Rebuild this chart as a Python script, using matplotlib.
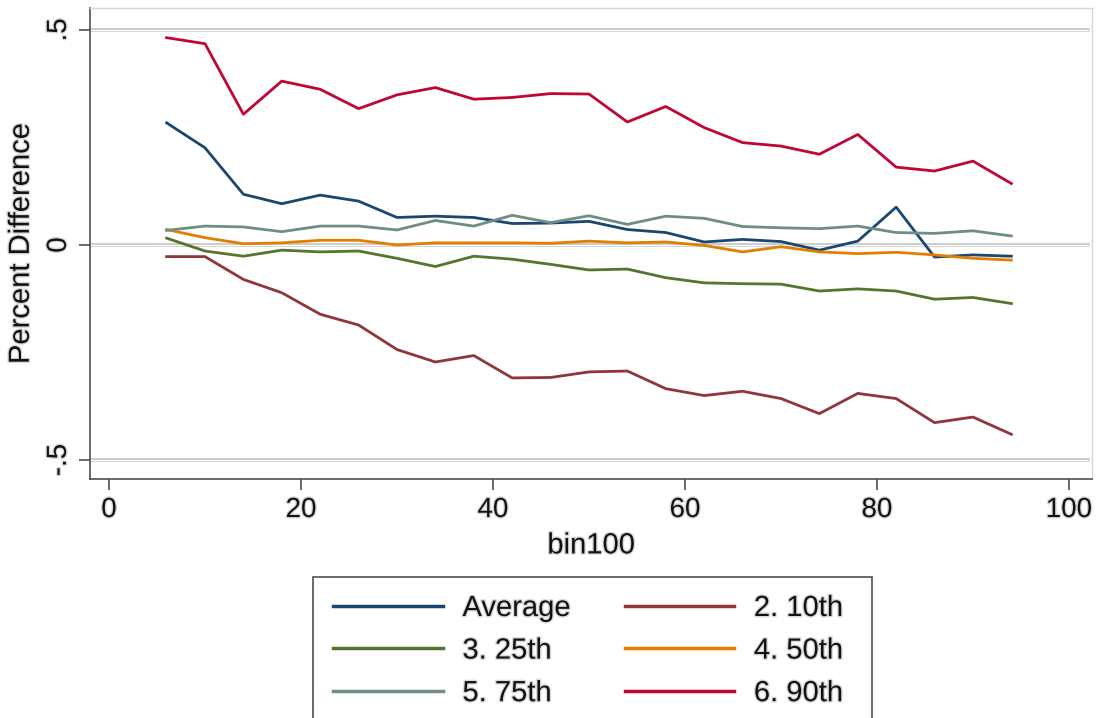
import matplotlib
matplotlib.use("Agg")
import matplotlib.pyplot as plt
import matplotlib.patheffects as pe
from matplotlib.patches import Rectangle

plt.rcParams['font.family'] = ['Liberation Sans', 'DejaVu Sans']

bin100 = [6, 10, 14, 18, 22, 26, 30, 34, 38, 42, 46, 50, 54, 58, 62, 66, 70, 74, 78, 82, 86, 90, 94]

average = [0.284, 0.226, 0.118, 0.096, 0.116, 0.102, 0.064, 0.067, 0.064, 0.050, 0.051, 0.055,
           0.036, 0.029, 0.007, 0.013, 0.008, -0.012, 0.009, 0.088, -0.028, -0.023, -0.026]
p10 = [-0.027, -0.027, -0.080, -0.111, -0.161, -0.186, -0.243, -0.272, -0.257, -0.309, -0.308, -0.295,
       -0.293, -0.334, -0.350, -0.340, -0.357, -0.392, -0.345, -0.357, -0.413, -0.400, -0.440]
p25 = [0.016, -0.014, -0.026, -0.012, -0.016, -0.014, -0.031, -0.050, -0.026, -0.033, -0.045, -0.058,
       -0.056, -0.076, -0.088, -0.090, -0.091, -0.107, -0.102, -0.107, -0.126, -0.122, -0.136]
p50 = [0.036, 0.017, 0.003, 0.005, 0.011, 0.011, 0.000, 0.005, 0.005, 0.005, 0.004, 0.009,
       0.005, 0.007, -0.001, -0.016, -0.004, -0.016, -0.020, -0.017, -0.023, -0.031, -0.035]
p75 = [0.034, 0.044, 0.042, 0.031, 0.044, 0.044, 0.035, 0.057, 0.044, 0.069, 0.052, 0.068,
       0.048, 0.067, 0.062, 0.043, 0.040, 0.038, 0.044, 0.029, 0.027, 0.033, 0.021]
p90 = [0.482, 0.468, 0.304, 0.381, 0.362, 0.317, 0.349, 0.366, 0.339, 0.343, 0.352, 0.351,
       0.286, 0.322, 0.273, 0.238, 0.230, 0.211, 0.257, 0.181, 0.172, 0.195, 0.143]

series_labels = ["Average", "2. 10th", "3. 25th", "4. 50th", "5. 75th", "6. 90th"]
series_values = [average, p10, p25, p50, p75, p90]
series_colors = ["#1a476f", "#90353b", "#55752f", "#e37e00", "#6e8e84", "#c10534"]

x_ticks = [0, 20, 40, 60, 80, 100]
y_ticks = [-0.5, 0, 0.5]
y_ticklabels = ["-.5", "0", ".5"]

W, H = 1099, 718
fig = plt.figure(figsize=(W / 100, H / 100), dpi=100)
left, right, top, bottom = 90, 1092, 8, 479
ax = fig.add_axes([left / W, 1 - bottom / H, (right - left) / W, (bottom - top) / H])

ax.set_xlim(-1.98, 102.4)
ax.set_ylim(-0.544, 0.551)

halo = [pe.withStroke(linewidth=2.0, foreground="#d8d8d8")]

# grid lines (double-line look)
for yv in y_ticks:
    ax.axhline(yv, color="#c4c4c4", lw=2.6, zorder=1, xmin=0, xmax=0.996)
    ax.axhline(yv, color="white", lw=0.9, zorder=1.1, xmin=0, xmax=0.996)

handles = []
for vals, lab, col in zip(series_values, series_labels, series_colors):
    h, = ax.plot(bin100, vals, color=col, lw=2.0, label=lab, zorder=3)
    handles.append(h)

for s in ["left", "bottom"]:
    ax.spines[s].set_color("#505050")
    ax.spines[s].set_linewidth(1.2)
for s in ["top", "right"]:
    ax.spines[s].set_color("#d6d6d6")
    ax.spines[s].set_linewidth(1.0)

ax.set_xticks(x_ticks)
ax.set_xticklabels([str(v) for v in x_ticks])
ax.set_yticks(y_ticks)
ax.set_yticklabels(y_ticklabels, rotation=90, va="center")
ax.tick_params(axis="both", direction="out", length=8, width=1.2, color="#505050",
               labelsize=20, labelcolor="#111111", pad=5)
for t in ax.get_xticklabels() + ax.get_yticklabels():
    t.set_path_effects(halo)

ax.set_xlabel("bin100", fontsize=21, color="#111111", labelpad=6, path_effects=halo)
ax.set_ylabel("Percent Difference", fontsize=21, color="#111111", labelpad=8, path_effects=halo)

# legend frame (extends past the bottom edge, as in the reference)
fig.patches.append(Rectangle((313 / W, -0.05), (872 - 313) / W, (1 - 577 / H) + 0.05,
                             transform=fig.transFigure, fill=False,
                             edgecolor="#505050", lw=1.2))

# row-wise order (Stata style): reorder for matplotlib's column-wise filling
order = [0, 2, 4, 1, 3, 5]
leg = fig.legend([handles[i] for i in order], [series_labels[i] for i in order],
                 loc="upper center", bbox_to_anchor=(588 / W, 1 - 594 / H), ncol=2,
                 fontsize=21, frameon=False,
                 handlelength=3.75, handletextpad=0.68, columnspacing=1.85,
                 labelspacing=0.5, borderpad=0.0, borderaxespad=0.0)
for t in leg.get_texts():
    t.set_color("#111111")
    t.set_path_effects(halo)
for l in leg.get_lines():
    l.set_linewidth(2.5)

fig.savefig("out.png", dpi=100)
